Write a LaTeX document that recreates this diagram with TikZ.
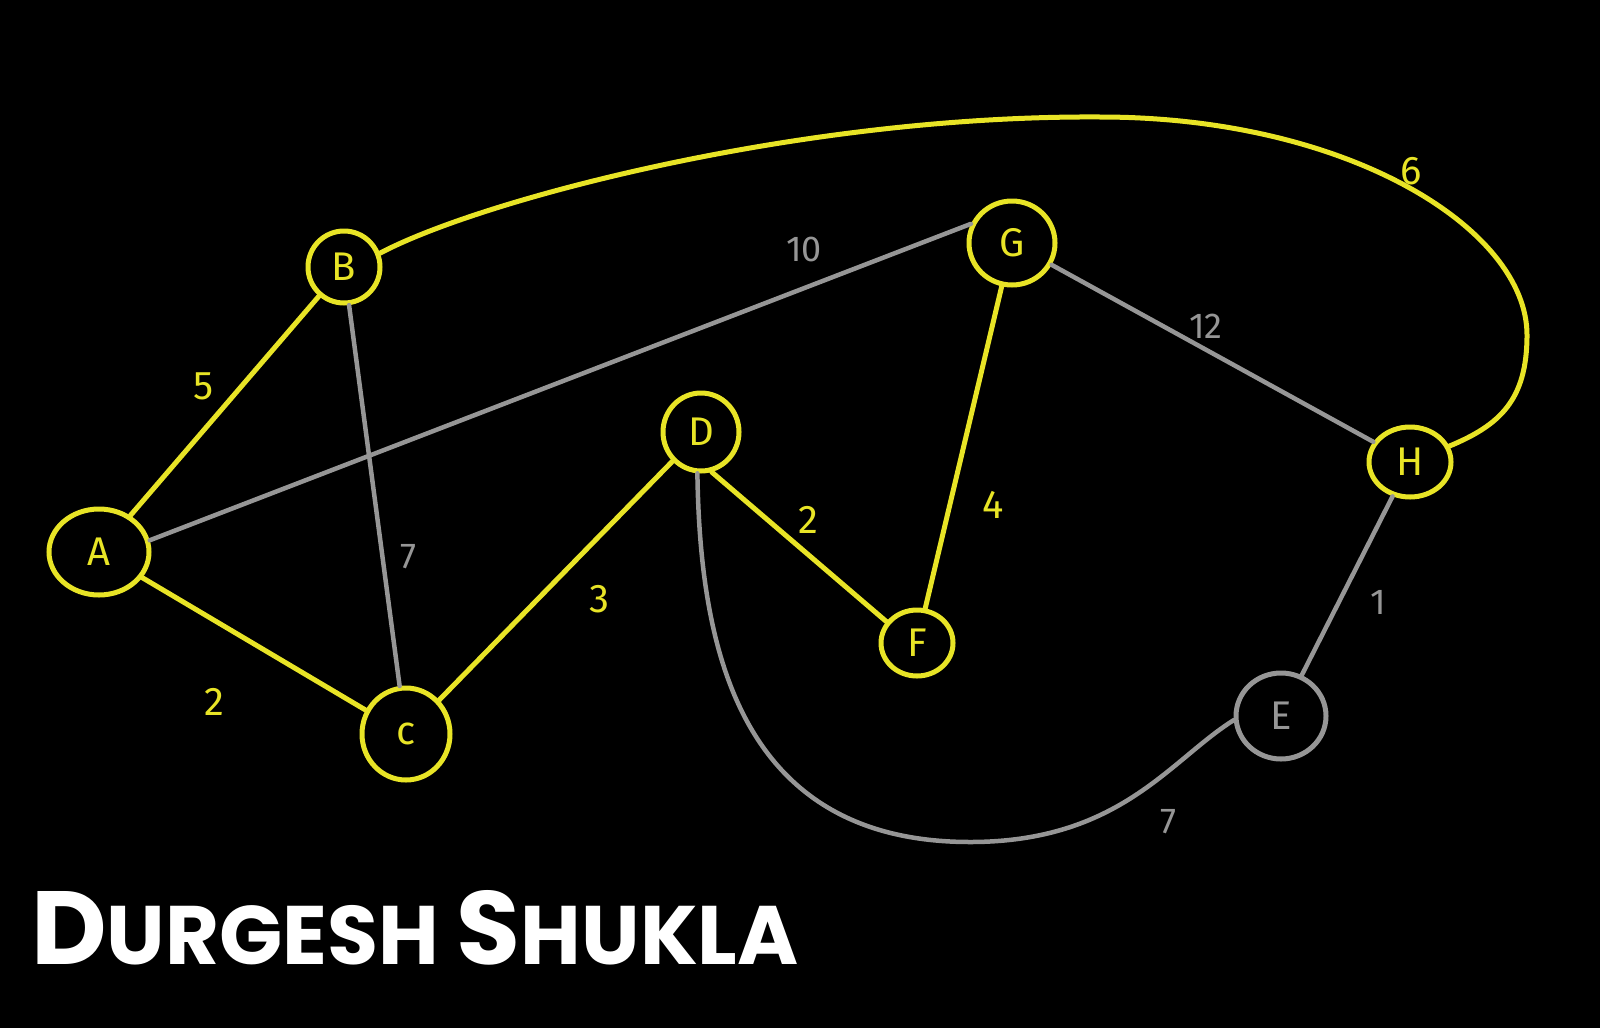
\documentclass[tikz,border=0pt]{standalone}
\usepackage{fontspec}
\setmainfont{Fira Sans}
\newfontfamily\titlefont{Poppins}
\usetikzlibrary{shapes.geometric}
\definecolor{hlyellow}{RGB}{232,228,38}
\definecolor{edgegray}{RGB}{150,150,150}
\tikzset{
  vtx/.style={ellipse, draw=hlyellow, line width=5pt, inner sep=0pt, text=hlyellow,
              font=\fontsize{40}{40}\selectfont},
  vtxg/.style={vtx, draw=edgegray, text=edgegray},
  ye/.style={draw=hlyellow, line width=5pt, line cap=round},
  ge/.style={draw=edgegray, line width=4.5pt, line cap=round},
  ylab/.style={text=hlyellow, font=\fontsize{40}{40}\selectfont},
  glab/.style={text=edgegray, font=\fontsize{36}{36}\selectfont},
}
\begin{document}
\begin{tikzpicture}[x=1pt,y=-1pt]
\fill[black] (0,0) rectangle (1600,1028);
\useasboundingbox (0,0) rectangle (1600,1028);
% vertices
\node[vtx, minimum width=100pt, minimum height=86pt] (A) at (99,552) {A};
\node[vtx, minimum width=72pt, minimum height=72pt] (B) at (344,267) {B};
\node[vtx, minimum width=88pt, minimum height=92pt] (C) at (406,734) {c};
\node[vtx, minimum width=76pt, minimum height=78pt] (D) at (701,432) {D};
\node[vtx, minimum width=72pt, minimum height=66pt] (F) at (917,643) {F};
\node[vtx, minimum width=86pt, minimum height=84pt] (G) at (1012,243) {G};
\node[vtx, minimum width=82pt, minimum height=70pt] (H) at (1410,462) {H};
\node[vtxg, minimum width=90pt, minimum height=86pt] (E) at (1281,716) {E};
% gray edges
\draw[ge] (A.13) -- (G.155);
\draw[ge] (B) -- (C);
\draw[ge] (G) -- (H);
\draw[ge] (H) -- (E);
\draw[ge] (D.265) .. controls (700,650) and (740,842) .. (970,842)
          .. controls (1120,842) and (1170,760) .. (E.185);
% yellow edges
\draw[ye] (A) -- (B);
\draw[ye] (A) -- (C);
\draw[ye] (C) -- (D);
\draw[ye] (D.-75) -- (F.145);
\draw[ye] (F) -- (G);
\draw[ye] (B.21) .. controls (480,200) and (800,115) .. (1100,117)
          .. controls (1350,117) and (1527,230) .. (1527,335)
          .. controls (1527,400) and (1500,425) .. (H.22);
% edge labels
\node[ylab] (lAB) at (204,386) {5};
\node[ylab] (lAC) at (214,702) {2};
\node[ylab] (lCD) at (599,599) {3};
\node[ylab] (lDF) at (808,520) {2};
\node[ylab] (lFG) at (993,505) {4};
\node[ylab] (lBH) at (1411,171) {6};
\node[glab] (lAG) at (804,249) {10};
\node[glab] (lBC) at (408,557) {7};
\node[glab] (lGH) at (1206,326) {12};
\node[glab] (lHE) at (1378,602) {1};
\node[glab] (lDE) at (1168,822) {7};
% title
\node[anchor=base west, inner sep=0pt, text=white, font=\titlefont\bfseries] (title) at (31,964)
  {\fontsize{104}{104}\selectfont D\fontsize{83}{83}\selectfont URGESH \fontsize{104}{104}\selectfont S\fontsize{83}{83}\selectfont HUKLA};
\end{tikzpicture}
\end{document}
